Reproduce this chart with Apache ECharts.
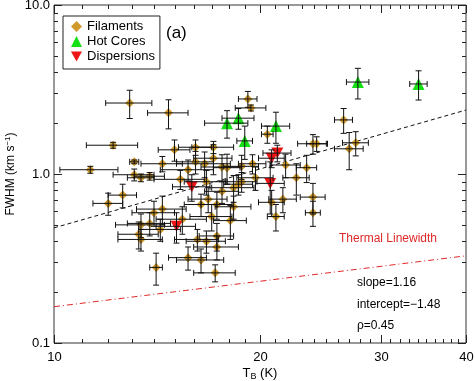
<!DOCTYPE html>
<html>
<head>
<meta charset="utf-8">
<script src="https://cdn.jsdelivr.net/npm/echarts@6/dist/echarts.min.js"></script>
<style>
html,body{margin:0;padding:0;background:#fff;}
#c{width:475px;height:381px;}
</style>
</head>
<body>
<div id="c"></div>
<script>
// ---- Data ----
const filamentT = [11.3,12.2,12.9,14.7,13.1,13.1,13.4,13.8,14.4,15.0,15.3,16.1,17.1,15.7,16.1,16.6,17.1,17.6,17.9,18.8,
  19.5,19.2,19.4,20.5,21.8,22.6,23.4,19.7,18.8,18.3,16.7,17.6,16.8,16.4,14.0,14.4,15.4,17.0,18.1,18.3,
  17.3,12.6,12.0,13.4,13.8,14.3,13.3,13.4,16.2,16.7,17.3,17.3,15.7,16.4,14.1,17.2,20.8,21.6,21.1,23.9,
  23.9,26.5,23.9,24.2,27.0,27.6,18.6];
const filamentFWHM = [1.06,1.48,2.63,2.30,1.18,0.99,0.95,0.97,1.15,1.39,0.93,1.44,1.44,1.06,1.18,1.15,1.24,1.10,1.09,1.11,
  1.15,2.78,2.46,1.72,1.13,0.95,1.09,0.95,0.90,0.83,0.90,0.79,0.71,0.66,0.59,0.62,0.54,0.56,0.53,0.64,
  0.66,0.75,0.67,0.50,0.51,0.47,0.44,0.41,0.41,0.40,0.43,0.37,0.32,0.31,0.28,0.26,0.68,0.71,0.56,0.73,
  0.59,2.09,1.51,1.51,1.41,1.53,0.87];
const filamentTErr = [1.1,1.05,1.0,1.0,0.2,0.9,0.6,0.7,1.0,0.8,1.3,0.9,1.2,1.4,1.0,1.5,1.1,1.2,0.8,1.1,
  0.9,0.6,1.0,0.4,1.1,1.0,0.8,1.2,1.0,1.3,1.2,1.0,1.1,0.9,1.0,1.2,1.3,1.2,1.0,1.1,
  0.9,0.6,0.6,1.1,1.0,1.0,0.9,1.0,1.2,1.1,1.0,1.3,1.0,1.3,0.3,1.2,0.9,1.0,0.6,1.0,
  0.6,0.8,1.2,0.8,1.3,1.2,0.9];
const filamentFErr = [0.05,0.06,0.5,0.45,0.03,0.08,0.05,0.05,0.12,0.2,0.12,0.15,0.12,0.15,0.18,0.2,0.25,0.2,0.22,0.18,
  0.15,0.3,0.1,0.2,0.18,0.2,0.2,0.15,0.12,0.15,0.15,0.12,0.12,0.1,0.1,0.12,0.1,0.1,0.12,0.1,
  0.12,0.12,0.1,0.08,0.08,0.07,0.08,0.06,0.06,0.06,0.08,0.06,0.05,0.05,0.06,0.03,0.12,0.12,0.1,0.15,
  0.1,0.35,0.2,0.15,0.35,0.25,0.12];

const hotCoreT = [17.9,18.6,19.0,21.1,27.8,34.1];
const hotCoreFWHM = [2.00,2.14,1.57,1.92,3.50,3.41];
const hotCoreTErr = [1.3,1.0,0.5,1.0,1.05,1.0];
const hotCoreFErr = [0.37,0.3,0.35,0.4,0.72,0.67];

const dispT = [15.9,15.1,20.7,20.8,21.2];
const dispFWHM = [0.84,0.49,0.88,1.24,1.33];
const dispTErr = [1.0,1.0,1.0,0.9,1.0];
const dispFErr = [0.15,0.1,0.3,0.15,0.15];

// line endpoints (fit: slope=1.16, intercept=-1.48; thermal NH3 linewidth)
const fitLineT = [10,40];
const fitLineFWHM = [0.48,2.39];
const thermalT = [10,40];
const thermalFWHM = [0.164,0.328];

// ticks
const xMajorTicks = [10,20,30,40];
const xTickLabels = ['10','20','30','40'];
const xMinorTicks = [11,12,13,14,15,16,17,18,19,21,22,23,24,25,26,27,28,29,31,32,33,34,35,36,37,38,39];
const yMajorTicks = [0.1,1,10];
const yTickLabels = ['0.1','1.0','10.0'];
const yMinorTicks = [0.2,0.3,0.4,0.5,0.6,0.7,0.8,0.9,2,3,4,5,6,7,8,9];

// ---- Build ----
const FONT = 'Liberation Sans, Arial, Helvetica, sans-serif';
const zip2 = (a,b)=>a.map((v,i)=>[v,b[i]]);
const zip4 = (a,b,c,d)=>a.map((v,i)=>[v,b[i],c[i],d[i]]);

const tickData = [];
xMajorTicks.forEach((v,i)=>tickData.push([v,1,0,i]));
xMinorTicks.forEach(v=>tickData.push([v,1,1,-1]));
yMajorTicks.forEach((v,i)=>tickData.push([10,v,2,i]));
yMinorTicks.forEach(v=>tickData.push([10,v,3,-1]));

function tickRender(params, api){
  const cs = params.coordSys;
  const kind = api.value(2), li = api.value(3);
  const ch = [];
  const ls = {stroke:'#222', lineWidth:1};
  if (kind < 2){
    const x = Math.round(api.coord([api.value(0),1])[0]) + 0.5;
    const len = kind === 0 ? 8 : 4;
    const b = cs.y + cs.height, t = cs.y;
    ch.push({type:'line', shape:{x1:x,y1:b,x2:x,y2:b-len}, style:ls});
    ch.push({type:'line', shape:{x1:x,y1:t,x2:x,y2:t+len}, style:ls});
    if (kind === 0){
      ch.push({type:'text', style:{text:xTickLabels[li], x:x, y:b+8, align:'center', textAlign:'center',
        verticalAlign:'top', textVerticalAlign:'top', font:'13px '+FONT, fill:'#000'}});
    }
  } else {
    const y = Math.round(api.coord([10, api.value(1)])[1]) + 0.5;
    const len = kind === 2 ? 8 : 4;
    const l = cs.x, r = cs.x + cs.width;
    ch.push({type:'line', shape:{x1:l,y1:y,x2:l+len,y2:y}, style:ls});
    ch.push({type:'line', shape:{x1:r,y1:y,x2:r-len,y2:y}, style:ls});
    if (kind === 2){
      ch.push({type:'text', style:{text:yTickLabels[li], x:l-4, y:y, align:'right', textAlign:'right',
        verticalAlign:'middle', textVerticalAlign:'middle', font:'13px '+FONT, fill:'#000'}});
    }
  }
  return {type:'group', children:ch};
}

function errRender(params, api){
  const T = api.value(0), F = api.value(1), dT = api.value(2), dF = api.value(3);
  const l = api.coord([T-dT, F]), r = api.coord([T+dT, F]);
  const b = api.coord([T, Math.max(F-dF, 0.101)]), t = api.coord([T, F+dF]);
  const cap = 3;
  const s = {stroke:'#111', lineWidth:1};
  return {type:'group', children:[
    {type:'line', shape:{x1:l[0],y1:l[1],x2:r[0],y2:r[1]}, style:s},
    {type:'line', shape:{x1:l[0],y1:l[1]-cap,x2:l[0],y2:l[1]+cap}, style:s},
    {type:'line', shape:{x1:r[0],y1:r[1]-cap,x2:r[0],y2:r[1]+cap}, style:s},
    {type:'line', shape:{x1:b[0],y1:b[1],x2:t[0],y2:t[1]}, style:s},
    {type:'line', shape:{x1:b[0]-cap,y1:b[1],x2:b[0]+cap,y2:b[1]}, style:s},
    {type:'line', shape:{x1:t[0]-cap,y1:t[1],x2:t[0]+cap,y2:t[1]}, style:s}
  ]};
}

const DOWN_TRI = 'path://M0,0L10,0L5,9Z';
const GOLD = '#D09A2A', GREEN = '#14E014', RED = '#EE1515';

const chart = echarts.init(document.getElementById('c'), null, {renderer:'canvas'});
chart.setOption({
  animation:false,
  backgroundColor:'#fff',
  textStyle:{fontFamily:FONT},
  grid:{left:54, right:9, top:5, bottom:38, show:true, borderColor:'#333', borderWidth:1, backgroundColor:'transparent',
    outerBoundsMode:'none', containLabel:false},
  xAxis:{type:'log', logBase:10, min:10, max:40,
    axisLine:{show:false}, axisTick:{show:false}, axisLabel:{show:false}, splitLine:{show:false}, minorTick:{show:false},
    name:'{a|T}{s|B}{a| (K)}', nameLocation:'middle', nameGap:23,
    nameTextStyle:{color:'#000', rich:{a:{fontSize:13, fontFamily:FONT, color:'#000'}, s:{fontSize:9, fontFamily:FONT, color:'#000', verticalAlign:'bottom', padding:[6,0,0,0]}}}},
  yAxis:{type:'log', logBase:10, min:0.1, max:10,
    axisLine:{show:false}, axisTick:{show:false}, axisLabel:{show:false}, splitLine:{show:false}, minorTick:{show:false},
    name:'{a|FWHM (km s}{s|−1}{a|)}', nameLocation:'middle', nameGap:36, nameRotate:90,
    nameTextStyle:{color:'#000', rich:{a:{fontSize:12, fontFamily:FONT, color:'#000'}, s:{fontSize:8, fontFamily:FONT, color:'#000', verticalAlign:'top', padding:[0,0,6,0]}}}},
  legend:{left:63, top:16, orient:'vertical', selectedMode:false,
    borderColor:'#222', borderWidth:1, padding:[4,5,6,8], itemGap:2, itemWidth:11, itemHeight:11,
    textStyle:{fontSize:13, color:'#000', fontFamily:FONT},
    data:[{name:'Filaments', icon:'diamond'},{name:'Hot Cores', icon:'triangle'},{name:'Dispersions', icon:DOWN_TRI}]},
  series:[
    {type:'custom', name:'ticks', data:tickData, renderItem:tickRender, silent:true, clip:false, z:10},
    {type:'line', name:'fit', data:zip2(fitLineT, fitLineFWHM), symbol:'none', silent:true, z:1,
      lineStyle:{color:'#111', width:1, type:[4,3]}},
    {type:'line', name:'thermal', data:zip2(thermalT, thermalFWHM), symbol:'none', silent:true, z:1,
      lineStyle:{color:'#E02828', width:1, type:[6,3,1,3]}},
    {type:'scatter', name:'Filaments', data:zip2(filamentT, filamentFWHM), symbol:'diamond', symbolSize:9,
      itemStyle:{color:GOLD, opacity:1}, z:2},
    {type:'scatter', name:'Hot Cores', data:zip2(hotCoreT, hotCoreFWHM), symbol:'triangle', symbolSize:12,
      itemStyle:{color:GREEN, opacity:1}, z:2},
    {type:'scatter', name:'Dispersions', data:zip2(dispT, dispFWHM), symbol:DOWN_TRI, symbolSize:[12,11],
      itemStyle:{color:RED, opacity:1}, z:2},
    {type:'custom', name:'fErr', data:zip4(filamentT, filamentFWHM, filamentTErr, filamentFErr), renderItem:errRender, silent:true, z:3},
    {type:'custom', name:'hErr', data:zip4(hotCoreT, hotCoreFWHM, hotCoreTErr, hotCoreFErr), renderItem:errRender, silent:true, z:3},
    {type:'custom', name:'dErr', data:zip4(dispT, dispFWHM, dispTErr, dispFErr), renderItem:errRender, silent:true, z:3}
  ],
  graphic:[
    {type:'text', left:166, top:25, style:{text:'(a)', font:'17px '+FONT, fill:'#000'}},
    {type:'text', left:339, top:233, style:{text:'Thermal Linewidth', font:'12px '+FONT, fill:'#E02828'}},
    {type:'text', left:357, top:277, style:{text:'slope=1.16', font:'12px '+FONT, fill:'#000'}},
    {type:'text', left:357, top:299, style:{text:'intercept=−1.48', font:'12px '+FONT, fill:'#000'}},
    {type:'text', left:357, top:320, style:{text:'ρ=0.45', font:'12px '+FONT, fill:'#000'}}
  ]
});
</script>
</body>
</html>
